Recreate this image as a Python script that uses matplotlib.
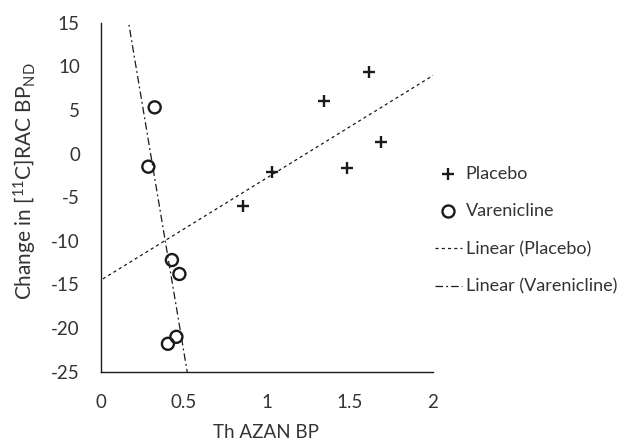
import matplotlib
matplotlib.use("Agg")
import matplotlib.pyplot as plt
import numpy as np

plt.rcParams["font.family"] = ["Lato", "DejaVu Sans"]
plt.rcParams["mathtext.fontset"] = "custom"
plt.rcParams["mathtext.rm"] = "Lato"
plt.rcParams["mathtext.it"] = "Lato:italic"
plt.rcParams["axes.unicode_minus"] = False

placebo_x = [0.855, 1.030, 1.347, 1.482, 1.618, 1.687]
placebo_y = [-6.0, -2.1, 6.0, -1.6, 9.3, 1.3]
varen_x = [0.287, 0.325, 0.405, 0.429, 0.456, 0.474]
varen_y = [-1.5, 5.3, -21.8, -12.2, -21.0, -13.8]

x_ticks = [0, 0.5, 1, 1.5, 2]
x_labels = ["0", "0.5", "1", "1.5", "2"]
y_ticks = [-25, -20, -15, -10, -5, 0, 5, 10, 15]

ink = "#1a1a1a"
txt = "#333333"

fig = plt.figure(figsize=(6.24, 4.41), dpi=100)
ax = fig.add_axes([0.1614, 0.1571, 0.532, 0.7914])

ax.scatter(placebo_x, placebo_y, marker="+", s=80, linewidths=1.7,
           color=ink, label="Placebo", zorder=3)
ax.scatter(varen_x, varen_y, marker="o", s=75, facecolors="none",
           edgecolors=ink, linewidths=1.7, label="Varenicline", zorder=3)

# linear trendlines, as Excel draws them
xs = np.linspace(-0.5, 2.5, 200)
p = np.polyfit(placebo_x, placebo_y, 1)
v = np.polyfit(varen_x, varen_y, 1)
ax.plot(xs, np.polyval(p, xs), color=ink, lw=0.9, ls=(0, (2.5, 2.5)),
        label="Linear (Placebo)")
ax.plot(xs, np.polyval(v, xs), color=ink, lw=0.9, ls=(0, (6, 2.5, 1.5, 2.5)),
        label="Linear (Varenicline)")

ax.set_xlim(0, 2)
ax.set_ylim(-25, 15)
ax.set_xticks(x_ticks)
ax.set_xticklabels(x_labels)
ax.set_yticks(y_ticks)
ax.tick_params(length=0, labelsize=13.5, colors=txt)
ax.tick_params(axis="y", pad=15)
ax.tick_params(axis="x", pad=16)
for s in ["top", "right"]:
    ax.spines[s].set_visible(False)
for s in ["left", "bottom"]:
    ax.spines[s].set_color(ink)
    ax.spines[s].set_linewidth(1.0)

ax.set_xlabel("Th AZAN BP", fontsize=13.5, color=txt, va="center")
ax.xaxis.set_label_coords(0.498, -0.173)
ax.set_ylabel(r"Change in [$^{11}$C]RAC BP$_{\mathrm{ND}}$", fontsize=15,
              color=txt, va="center")
ax.yaxis.set_label_coords(-0.228, 0.546)

fig.legend(loc="center left", bbox_to_anchor=(0.671, 0.478), frameon=False,
           fontsize=13, labelspacing=1.2, handlelength=1.5, handletextpad=0.2,
           labelcolor=txt)

fig.savefig("out.png", dpi=100)
